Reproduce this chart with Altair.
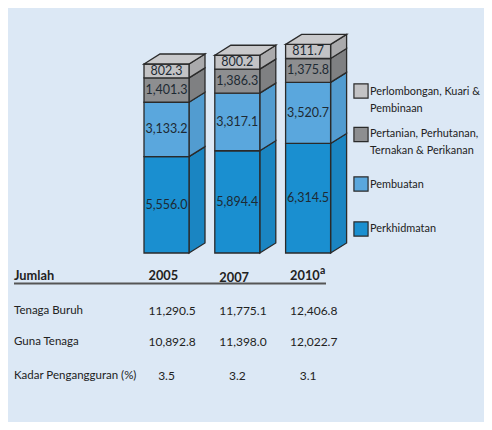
import altair as alt
import pandas as pd

# ---------------- data ----------------
years = ["2005", "2007", "2010"]
sectors = ["Perkhidmatan", "Pembuatan",
           "Pertanian, Perhutanan, Ternakan & Perikanan",
           "Perlombongan, Kuari & Pembinaan"]
perkhidmatan = [5556.0, 5894.4, 6314.5]
pembuatan = [3133.2, 3317.1, 3520.7]
pertanian = [1401.3, 1386.3, 1375.8]
perlombongan = [802.3, 800.2, 811.7]

row_labels = ["Tenaga Buruh", "Guna Tenaga", "Kadar Pengangguran (%)"]
tenaga_buruh = [11290.5, 11775.1, 12406.8]
guna_tenaga = [10892.8, 11398.0, 12022.7]
kadar = [3.5, 3.2, 3.1]

legend_lines = [["Perlombongan, Kuari &", "Pembinaan"],
                ["Pertanian, Perhutanan,", "Ternakan & Perikanan"],
                ["Pembuatan"],
                ["Perkhidmatan"]]

# ---------------- styling / layout ----------------
FONT = "Lato"
W, H = 476, 414
X0, STEP = 158.5, 70.8          # first bar centre (px in plot) and spacing
HALF, DEPTH_X, DEPTH_Y = 22.5, 16, 10
BASE = 245.0
PXU = 189.0 / 10892.8            # px per thousand
EDGE = "#2a2a2a"

front_col = {sectors[0]: "#1a8fd0", sectors[1]: "#5aa7dd",
             sectors[2]: "#8d8e90", sectors[3]: "#c3c3c5"}
side_col = {sectors[0]: "#1a85c2", sectors[1]: "#529cd0",
            sectors[2]: "#7f8082", sectors[3]: "#aaaaac"}
top_col = "#c9c9cb"

hw = HALF / STEP
dxu = DEPTH_X / STEP
dyu = DEPTH_Y / PXU


def px2x(px):
    return (px - 8 - X0) / STEP


def px2y(py):
    return (BASE - (py - 8)) / PXU


xs = alt.Scale(domain=[-X0 / STEP, (W - X0) / STEP], nice=False, zero=False)
ys = alt.Scale(domain=[-(H - BASE) / PXU, BASE / PXU], nice=False, zero=False)

series = [perkhidmatan, pembuatan, pertanian, perlombongan]

front, side, top = [], [], []
for i, yr in enumerate(years):
    cum = 0.0
    for k, s in enumerate(sectors):
        v = series[k][i]
        y0, y1 = cum, cum + v
        cum = y1
        front.append(dict(x1=i - hw, x2=i + hw, y0=y0, y1=y1, mid=(y0 + y1) / 2,
                          xc=i, fill=front_col[s], label=f"{v:,.1f}"))
        key = f"{yr}-{k}"
        side.append(dict(key=key, x=i + hw, lo=y0, hi=y1, fill=side_col[s]))
        side.append(dict(key=key, x=i + hw + dxu, lo=y0 + dyu, hi=y1 + dyu, fill=side_col[s]))
    t = cum
    xl, xr = i - hw, i + hw
    top += [dict(key=yr, x=xl, lo=t, hi=t),
            dict(key=yr, x=xl + dxu, lo=t, hi=t + dyu),
            dict(key=yr, x=xr, lo=t, hi=t + dyu),
            dict(key=yr, x=xr + dxu, lo=t + dyu, hi=t + dyu)]

front_df = pd.DataFrame(front)
side_df = pd.DataFrame(side)
top_df = pd.DataFrame(top)

X = lambda f: alt.X(f, scale=xs, axis=None)
Y = lambda f: alt.Y(f, scale=ys, axis=None, stack=None)

front_layer = alt.Chart(front_df).mark_rect(stroke=EDGE, strokeWidth=1.3).encode(
    x=X("x1:Q"), x2="x2:Q", y=Y("y0:Q"), y2="y1:Q",
    fill=alt.Fill("fill:N", scale=None))

side_layer = alt.Chart(side_df).mark_area(stroke=EDGE, strokeWidth=1.3, opacity=1).encode(
    x=X("x:Q"), y=Y("lo:Q"), y2="hi:Q", detail="key:N",
    fill=alt.Fill("fill:N", scale=None))

top_layer = alt.Chart(top_df).mark_area(stroke=EDGE, strokeWidth=1.3, opacity=1,
                                        color=top_col).encode(
    x=X("x:Q"), y=Y("lo:Q"), y2="hi:Q", detail="key:N")

seg_text = alt.Chart(front_df).mark_text(font=FONT, fontSize=12.5, color="#1e2a33").encode(
    x=X("xc:Q"), y=Y("mid:Q"), text="label:N")

# ---------------- legend ----------------
leg_sq_y = [91, 134.5, 184, 229]
leg_line_y = [[92, 108.5], [134, 151], [185], [229]]
sq_df = pd.DataFrame([dict(x=px2x(361), y=px2y(yy), fill=front_col[s])
                      for yy, s in zip(leg_sq_y, [sectors[3], sectors[2], sectors[1], sectors[0]])])
leg_sq = alt.Chart(sq_df).mark_square(size=200, stroke=EDGE, strokeWidth=1.2, opacity=1).encode(
    x=X("x:Q"), y=Y("y:Q"), fill=alt.Fill("fill:N", scale=None))
lt = []
for lines, ys_ in zip(legend_lines, leg_line_y):
    for ln, yy in zip(lines, ys_):
        lt.append(dict(x=px2x(370), y=px2y(yy), t=ln))
leg_txt = alt.Chart(pd.DataFrame(lt)).mark_text(font=FONT, fontSize=10.9, align="left",
                                                 color="#222").encode(
    x=X("x:Q"), y=Y("y:Q"), text="t:N")

# ---------------- table ----------------
head_df = pd.DataFrame([dict(x=px2x(14), y=px2y(276), t="Jumlah")] +
                       [dict(x=i + px2x(0) - px2x(18), y=px2y(276 + (2 if i == 1 else 0)), t=yr)
                        for i, yr in enumerate(years)])
head = alt.Chart(head_df).mark_text(font=FONT, fontSize=12.8, fontWeight="bold", align="left",
                                    color="#222").encode(x=X("x:Q"), y=Y("y:Q"), text="t:N")
sup = alt.Chart(pd.DataFrame([dict(x=px2x(320), y=px2y(270.5), t="a")])).mark_text(
    font=FONT, fontSize=10.5, fontWeight="bold", align="left", color="#222").encode(
    x=X("x:Q"), y=Y("y:Q"), text="t:N")

row_y = [310.5, 342, 376]
lab_df = pd.DataFrame([dict(x=px2x(14), y=px2y(yy), t=l) for l, yy in zip(row_labels, row_y)])
labs = alt.Chart(lab_df).mark_text(font=FONT, fontSize=11.5, align="left", color="#222").encode(
    x=X("x:Q"), y=Y("y:Q"), text="t:N")

vals = []
for r, arr in enumerate([tenaga_buruh, guna_tenaga]):
    for i, v in enumerate(arr):
        vals.append(dict(x=i + px2x(0) - px2x(18), y=px2y(row_y[r]), t=f"{v:,.1f}"))
val_txt = alt.Chart(pd.DataFrame(vals)).mark_text(font=FONT, fontSize=12, align="left",
                                                   color="#222").encode(
    x=X("x:Q"), y=Y("y:Q"), text="t:N")
rate_df = pd.DataFrame([dict(x=i, y=px2y(row_y[2]), t=f"{v:.1f}") for i, v in enumerate(kadar)])
rate_txt = alt.Chart(rate_df).mark_text(font=FONT, fontSize=12, color="#222").encode(
    x=X("x:Q"), y=Y("y:Q"), text="t:N")

underline = alt.Chart(pd.DataFrame({"a": [0]})).mark_rule(color="#555", strokeWidth=2).encode(
    x=alt.value(6), x2=alt.value(318), y=alt.value(275.5))

chart = alt.layer(side_layer, front_layer, top_layer, seg_text, leg_sq, leg_txt,
                  head, sup, labs, val_txt, rate_txt, underline).properties(
    width=W, height=H, background="#dce8f5", padding=0, autosize="none"
).configure_view(strokeWidth=0)

chart.save("out.html", embed_options={"renderer": "svg", "actions": False})
